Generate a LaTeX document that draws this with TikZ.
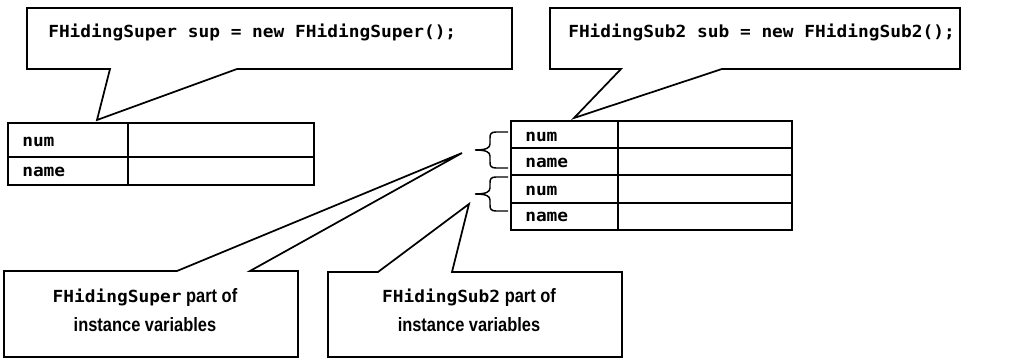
\documentclass[tikz,border=0pt]{standalone}
\usepackage{fontspec}
\newfontfamily\codefont[FakeStretch=1.07]{DejaVu Sans Mono}
\newfontfamily\notefont[FakeStretch=0.85]{Liberation Sans}
\newcommand\codeword[1]{{\codefont\fontsize{12.5}{21.75}\selectfont #1}}

\tikzset{
	callout/.style={line width=1.3pt, line join=miter},
	memtable/.style={line width=1.6pt},
	curly/.style={line width=1.1pt},
	decl/.style={anchor=base west, inner sep=0pt, font=\codefont\bfseries\fontsize{12.5}{15}\selectfont},
	cellname/.style={anchor=base west, inner sep=0pt, font=\codefont\bfseries\fontsize{12.5}{15}\selectfont},
	note/.style={align=center, inner sep=0pt, font=\notefont\bfseries\fontsize{14.5}{21.75}\selectfont}
}

\begin{document}
\begin{tikzpicture}[x=0.75pt, y=-0.75pt]
	\useasboundingbox (0,0) rectangle (1022,359);

	\coordinate (supTip) at (97,120);
	\coordinate (subTip) at (574,118);
	\coordinate (superPartTip) at (462,153);
	\coordinate (subPartTip) at (469,204);

	\draw[callout] (27,8) -- (512,8) -- (512,69) -- (237,69) -- (supTip) -- (110,69) -- (27,69) -- cycle;
	\node[decl] (supDecl) at (48,38) {FHidingSuper sup = new FHidingSuper();};
	\draw[callout] (550,8) -- (960,8) -- (960,69) -- (722,69) -- (subTip) -- (621,69) -- (550,69) -- cycle;
	\node[decl] (subDecl) at (568,38) {FHidingSub2 sub = new FHidingSub2();};

	\draw[memtable] (8,123) rectangle (314,185);
	\draw[memtable] (8,157) -- (314,157);
	\draw[memtable] (128,123) -- (128,185);
	\node[cellname] (supNum) at (22,147) {num};
	\node[cellname] (supName) at (22,177) {name};

	\draw[memtable] (511,121) rectangle (792,230);
	\foreach \y in {148,175,203}
		\draw[memtable] (511,\y) -- (792,\y);
	\draw[memtable] (618,121) -- (618,230);
	\foreach \lbl/\yb/\nm in {num/142/subNum1, name/168/subName1, num/196/subNum2, name/222/subName2}
		\node[cellname] (\nm) at (525,\yb) {\lbl};

	\foreach \c/\h in {150/18, 194/17}
		\draw[curly, shift={(0,\c)}] (508,-\h) -- (496,-\h) .. controls (491,-\h) and (490,-\h+2) .. (490,-\h+6)
			-- (490,-6) .. controls (490,-2) and (486,0) .. (475,0)
			.. controls (486,0) and (490,2) .. (490,6) -- (490,\h-6)
			.. controls (490,\h-2) and (491,\h) .. (496,\h) -- (508,\h);

	\draw[callout] (4,271) -- (177,271) -- (superPartTip) -- (250,271) -- (298,271) -- (298,357) -- (4,357) -- cycle;
	\node[note] (superPart) at (145,310) {\codeword{FHidingSuper} part of\\instance variables};
	\draw[callout] (328,272) -- (378,272) -- (subPartTip) -- (452,272) -- (622,272) -- (622,357) -- (328,357) -- cycle;
	\node[note] (subPart) at (469,310) {\codeword{FHidingSub2} part of\\instance variables};
\end{tikzpicture}
\end{document}
